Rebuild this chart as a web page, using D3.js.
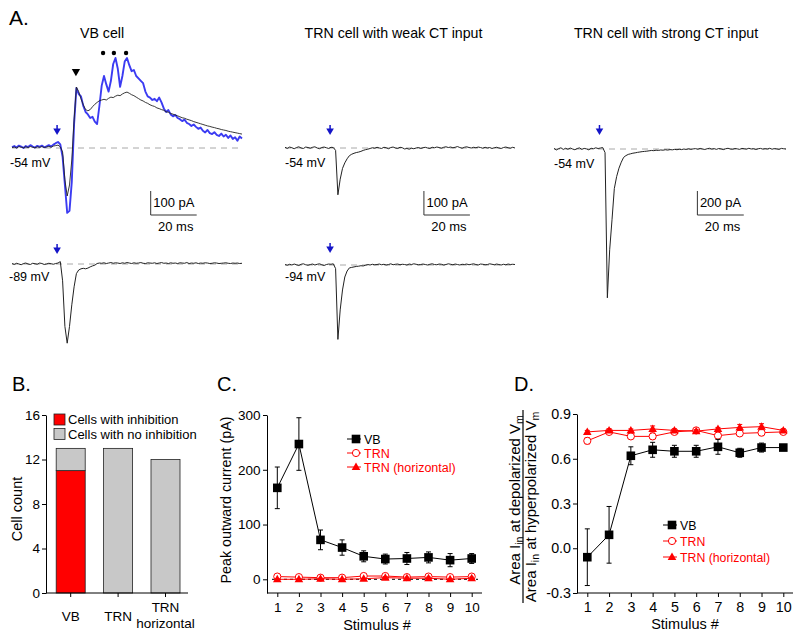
<!DOCTYPE html>
<html><head><meta charset="utf-8">
<script src="https://cdn.jsdelivr.net/npm/d3@7"></script>
<style>
body{margin:0;background:#fff;}
svg{font-family:"Liberation Sans", Arial, sans-serif;}
</style></head><body>
<svg id="fig" width="800" height="639"></svg>
<script>
// ---------------- DATA ----------------
// Panel A traces: current (pA), one sample per ms from 0 to 100 ms
const sampleMs = 1;
const vbDepBlue = [4,8,2,10,6,0,8,4,12,6, 2,9,5,10,3,7,12,6,14,20, 25,
  15,-37,-154,-270,-262,-140,100,250,225,215,
  175,150,140,125,130,110,100,175,260,300,
  265,235,280,350,375,330,255,300,360,375,
  345,320,325,300,290,280,270,235,215,210,
  200,205,195,210,190,165,150,158,140,132,
  138,125,120,112,118,105,100,92,98,88,
  80,85,72,65,75,62,58,66,55,50,
  60,48,55,42,52,38,45,30,48,40];
const vbDepBlack = [2,4,0,6,3,1,5,2,6,3, 1,5,3,6,2,4,7,3,8,10, 12,
  5,-17,-133,-200,-154,-50,117,254,235,205,
  180,160,155,160,172,182,190,197,200,203,
  200,207,212,210,216,220,218,225,230,233,
  228,222,218,212,206,200,196,190,186,180,
  176,173,167,164,160,157,151,149,144,141,
  137,134,130,126,124,120,117,114,110,107,
  104,101,98,95,92,90,87,85,82,80,
  77,75,73,70,68,66,64,62,60,58];
const vbHyp = [2,-2,3,0,-3,2,4,0,-2,3, 1,-1,4,2,-2,0,3,1,-1,2, 4,
  10,-70,-260,-330,-260,-170,-95,-40,-25,-20,
  -18,-20,-17,-12,-8,-5,2,4,3,5,
  2,4,6,3,5,4,2,5,3,6,
  4,2,5,3,4,6,3,2,5,4,
  3,5,2,4,6,3,4,2,5,3,
  4,2,5,4,3,6,2,4,3,5,
  2,4,3,5,4,2,3,5,4,2,
  3,4,5,3,2,4,3,4,2,3];
const trnWeakDep = [3,-2,4,1,-3,2,5,0,-2,4, 2,-1,3,5,0,-3,2,4,1,-2, 3,
  2,-10,-195,-130,-85,-62,-45,-32,-26,-22,
  -19,-17,-14,-10,-7,-5,-2,1,-1,3,
  0,-2,3,1,-3,2,4,0,-2,3,
  1,-4,-2,-5,-1,-3,0,2,-2,1,
  3,0,-2,3,1,4,2,-1,3,5,
  2,4,1,3,6,2,-1,3,5,2,
  0,3,1,4,2,-1,3,0,2,-2,
  1,3,0,-2,2,4,1,-1,3,0];
const trnWeakHyp = [2,-1,3,0,4,1,-2,3,5,1, -1,2,4,0,3,5,1,-2,2,4, 3,
  5,-15,-310,-187,-104,-50,-25,-12,-10,-8,
  -6,-5,-3,-4,-1,2,0,3,1,2,
  4,1,3,0,2,5,1,3,4,1,
  3,2,0,4,2,5,3,1,2,4,
  2,0,3,5,2,1,4,3,0,2,
  5,3,1,4,2,0,3,2,4,1,
  3,5,2,0,4,3,1,2,5,3,
  1,4,2,0,3,1,4,2,3,2];
const trnStrongDep = [5,-8,3,10,-4,6,-2,8,0,-6, 4,9,-3,5,1,-7,6,2,10,4, 8,
  12,-30,-1240,-840,-590,-330,-230,-160,-110,-70,
  -55,-45,-40,-35,-32,-28,-25,-22,-20,-18,
  -15,-12,-14,-10,-12,-8,-10,-6,-9,-5,
  -7,-3,-6,-2,-5,0,-4,2,-3,1,
  3,-2,5,0,-4,2,6,-1,3,-3,
  4,1,-5,2,6,0,-2,4,1,-3,
  5,2,-1,6,0,3,-4,2,5,-1,
  3,0,6,-2,4,1,-3,5,2,0];
const stimTimeMs = 19.6;
const vbPeakMarkMs = 27.8;
const vbBurstMarkMs = [39.6, 44.3, 49.6];
const traceTitles = ["VB cell", "TRN cell with weak CT input", "TRN cell with strong CT input"];
const holdingLabels = ["-54 mV", "-89 mV", "-54 mV", "-94 mV", "-54 mV"];
const scaleBarPA = [100, 100, 200];
const scaleBarMs = 20;

// Panel B
const bCategories = ["VB", "TRN", "TRN horizontal"];
const bWithInhibition = [11, 0, 0];
const bNoInhibition = [2, 13, 12];
const bYTicks = [0, 4, 8, 12, 16];

// Panels C and D
const stimulusNums = [1,2,3,4,5,6,7,8,9,10];
const cVB = [167, 247, 72, 58, 42, 37, 38, 40, 35, 38];
const cVBErr = [38, 48, 18, 14, 10, 9, 11, 10, 12, 9];
const cTRN = [5, 4, 3, 3, 6, 6, 4, 5, 4, 5];
const cTRNErr = [2, 2, 2, 2, 3, 3, 2, 3, 2, 2];
const cTRNh = [0, 0, 1, 0, 1, 3, 2, 2, 0, 2];
const cTRNhErr = [1, 1, 1, 1, 1, 2, 2, 2, 1, 2];
const cYTicks = [0, 100, 200, 300];

const dVB = [-0.06, 0.09, 0.62, 0.66, 0.65, 0.65, 0.68, 0.64, 0.675, 0.675];
const dVBErr = [0.19, 0.19, 0.06, 0.05, 0.04, 0.04, 0.05, 0.03, 0.03, 0.02];
const dTRN = [0.72, 0.78, 0.75, 0.75, 0.78, 0.79, 0.755, 0.77, 0.775, 0.78];
const dTRNErr = [0.02, 0.01, 0.01, 0.02, 0.01, 0.01, 0.02, 0.01, 0.02, 0.01];
const dTRNh = [0.78, 0.79, 0.79, 0.80, 0.79, 0.785, 0.80, 0.81, 0.815, 0.79];
const dTRNhErr = [0.01, 0.01, 0.01, 0.02, 0.01, 0.01, 0.01, 0.02, 0.02, 0.01];
const dYTicks = [-0.3, 0, 0.3, 0.6, 0.9];
const seriesNames = ["VB", "TRN", "TRN (horizontal)"];

// ---------------- DRAW ----------------
const svg = d3.select("#fig");
const BLUE = "#3b3bf2", ARROW = "#1414c8", RED = "#ff0000";

function txt(g, x, y, s, size, anchor, color) {
  return g.append("text").attr("x", x).attr("y", y).text(s)
    .attr("font-size", size).attr("text-anchor", anchor || "start").attr("fill", color || "#000");
}

// panel letters
txt(svg, 9, 25, "A.", 21);
txt(svg, 12, 391, "B.", 20);
txt(svg, 217, 391, "C.", 20);
txt(svg, 514, 391, "D.", 20);

// ---------- Panel A ----------
function traceLine(xs, ys) {
  return d3.line().x((d, i) => xs(i * sampleMs)).y(d => ys(d));
}
function dashedBase(xs, ys) {
  svg.append("line").attr("x1", xs(0)).attr("x2", xs(100)).attr("y1", ys(0)).attr("y2", ys(0))
    .attr("stroke", "#a8a8a8").attr("stroke-width", 1).attr("stroke-dasharray", "6,5");
}
function arrow(xs, ys, tipAbove) {
  const x = xs(stimTimeMs), tip = ys(0) - tipAbove;
  svg.append("line").attr("x1", x).attr("x2", x).attr("y1", tip - 10).attr("y2", tip - 5)
    .attr("stroke", ARROW).attr("stroke-width", 1.5);
  svg.append("path").attr("d", `M${x-3.8},${tip-6.5}L${x+3.8},${tip-6.5}L${x},${tip}Z`).attr("fill", ARROW);
}
function drawTrace(vals, xs, ys, color, w) {
  svg.append("path").datum(vals).attr("d", traceLine(xs, ys))
    .attr("fill", "none").attr("stroke", color).attr("stroke-width", w).attr("stroke-linejoin", "round");
}
function scaleBar(xs, ys, t0, bottomY, pA, pLabel) {
  const x1 = xs(t0), x2 = xs(t0 + scaleBarMs);
  const h = Math.abs(ys(0) - ys(pA));
  svg.append("path").attr("d", `M${x1},${bottomY - h}L${x1},${bottomY}L${x2},${bottomY}`)
    .attr("fill", "none").attr("stroke", "#333").attr("stroke-width", 1);
  txt(svg, x1 + 2.5, bottomY - 8, pLabel, 13);
  txt(svg, (x1 + x2) / 2 + 2, bottomY + 16, scaleBarMs + " ms", 13, "middle");
}

// VB cell
const xVB = d3.scaleLinear().domain([0, 100]).range([12, 242]);
const yVBdep = d3.scaleLinear().domain([0, 100]).range([148, 124]);
const yVBhyp = d3.scaleLinear().domain([0, 100]).range([264, 240]);
txt(svg, 102, 38, traceTitles[0], 14.2, "middle");
dashedBase(xVB, yVBdep);
drawTrace(vbDepBlue, xVB, yVBdep, BLUE, 1.9);
drawTrace(vbDepBlack, xVB, yVBdep, "#222", 0.9);
arrow(xVB, yVBdep, 13);
svg.append("path").attr("d", d3.symbol(d3.symbolTriangle, 30)())
  .attr("transform", `translate(${xVB(vbPeakMarkMs)},71.5) rotate(180)`).attr("fill", "#000");
vbBurstMarkMs.forEach(t => svg.append("circle").attr("cx", xVB(t)).attr("cy", 53).attr("r", 2.2).attr("fill", "#000"));
txt(svg, 10, 167, holdingLabels[0], 12.5);
scaleBar(xVB, yVBdep, 60.3, 215, scaleBarPA[0], scaleBarPA[0] + " pA");
dashedBase(xVB, yVBhyp);
drawTrace(vbHyp, xVB, yVBhyp, "#222", 1);
arrow(xVB, yVBhyp, 10);
txt(svg, 9, 281, holdingLabels[1], 12.5);

// TRN weak
const xTW = d3.scaleLinear().domain([0, 100]).range([285, 515]);
const yTWdep = d3.scaleLinear().domain([0, 100]).range([148, 124]);
const yTWhyp = d3.scaleLinear().domain([0, 100]).range([265, 241]);
txt(svg, 393.5, 38, traceTitles[1], 14.2, "middle");
dashedBase(xTW, yTWdep);
drawTrace(trnWeakDep, xTW, yTWdep, "#222", 1);
arrow(xTW, yTWdep, 13);
txt(svg, 285, 167, holdingLabels[2], 12.5);
scaleBar(xTW, yTWdep, 60.4, 215, scaleBarPA[1], scaleBarPA[1] + " pA");
dashedBase(xTW, yTWhyp);
drawTrace(trnWeakHyp, xTW, yTWhyp, "#222", 1);
arrow(xTW, yTWhyp, 12);
txt(svg, 285, 281, holdingLabels[3], 12.5);

// TRN strong
const xTS = d3.scaleLinear().domain([0, 100]).range([554, 786]);
const yTSdep = d3.scaleLinear().domain([0, 200]).range([149, 125]);
txt(svg, 666, 38, traceTitles[2], 14.2, "middle");
dashedBase(xTS, yTSdep);
drawTrace(trnStrongDep, xTS, yTSdep, "#222", 1);
arrow(xTS, yTSdep, 14);
txt(svg, 554, 168, holdingLabels[4], 12.5);
scaleBar(xTS, yTSdep, 61.8, 215, scaleBarPA[2], scaleBarPA[2] + " pA");

// ---------- Panel B ----------
const yB = d3.scaleLinear().domain([0, 16]).range([593, 415]);
const xB = d3.scaleBand().domain(bCategories).range([47, 189.2]).paddingInner(0.388).paddingOuter(0.194);
const gB = svg.append("g");
bCategories.forEach((c, i) => {
  const w = bWithInhibition[i], n = bNoInhibition[i];
  if (w > 0) gB.append("rect").attr("x", xB(c)).attr("width", xB.bandwidth())
    .attr("y", yB(w)).attr("height", yB(0) - yB(w)).attr("fill", RED).attr("stroke", "#222").attr("stroke-width", 0.8);
  gB.append("rect").attr("x", xB(c)).attr("width", xB.bandwidth())
    .attr("y", yB(w + n)).attr("height", yB(w) - yB(w + n)).attr("fill", "#c8c8c8").attr("stroke", "#222").attr("stroke-width", 0.8);
});
function styleAxis(g, size) {
  g.attr("font-family", null).attr("font-size", size);
  g.selectAll("text").attr("fill", "#000");
  g.selectAll("line,path").attr("stroke", "#000");
}
const ayB = svg.append("g").attr("transform", "translate(46,0)")
  .call(d3.axisLeft(yB).tickValues(bYTicks).tickSize(4).tickPadding(2).tickSizeOuter(0));
styleAxis(ayB, 13.5);
const axB = svg.append("g").attr("transform", "translate(0,593)")
  .call(d3.axisBottom(xB).tickSize(4).tickSizeOuter(0).tickFormat(""));
axB.select(".domain").remove();
styleAxis(axB, 13);
svg.append("line").attr("x1", 46).attr("x2", 188).attr("y1", 593).attr("y2", 593).attr("stroke", "#000");
bCategories.forEach(c => {
  const cx = xB(c) + xB.bandwidth() / 2;
  const parts = c.split(" ");
  if (parts.length === 1) txt(svg, cx, 621, c, 13.5, "middle");
  else { txt(svg, cx, 612, parts[0], 13.5, "middle"); txt(svg, cx, 627.5, parts[1], 13.5, "middle"); }
});
svg.append("text").attr("transform", "translate(22,509) rotate(-90)").attr("text-anchor", "middle")
  .attr("font-size", 14.5).text("Cell count");
// legend
svg.append("rect").attr("x", 54).attr("y", 414).attr("width", 11).attr("height", 11).attr("fill", RED).attr("stroke", "#222").attr("stroke-width", 0.8);
txt(svg, 68, 424, "Cells with inhibition", 13);
svg.append("rect").attr("x", 54).attr("y", 428.5).attr("width", 11).attr("height", 11).attr("fill", "#c8c8c8").attr("stroke", "#222").attr("stroke-width", 0.8);
txt(svg, 68, 438.5, "Cells with no inhibition", 13);

// ---------- Panels C / D helpers ----------
function marker(g, kind, x, y, color) {
  if (kind === "square") g.append("rect").attr("x", x - 4.3).attr("y", y - 4.3).attr("width", 8.6).attr("height", 8.6).attr("fill", "#000");
  else if (kind === "circle") g.append("circle").attr("cx", x).attr("cy", y).attr("r", 3.6).attr("fill", "#fff").attr("stroke", color).attr("stroke-width", 1);
  else g.append("path").attr("d", d3.symbol(d3.symbolTriangle, 32)()).attr("transform", `translate(${x},${y + 0.5})`).attr("fill", color);
}
function series(g, xs, ys, vals, errs, color, kind) {
  const pts = vals.map((v, i) => [xs(stimulusNums[i]), ys(v), ys(v + errs[i]), ys(v - errs[i])]);
  pts.forEach(p => {
    g.append("line").attr("x1", p[0]).attr("x2", p[0]).attr("y1", p[2]).attr("y2", p[3]).attr("stroke", color).attr("stroke-width", 1);
    g.append("line").attr("x1", p[0] - 2.5).attr("x2", p[0] + 2.5).attr("y1", p[2]).attr("y2", p[2]).attr("stroke", color).attr("stroke-width", 1);
    g.append("line").attr("x1", p[0] - 2.5).attr("x2", p[0] + 2.5).attr("y1", p[3]).attr("y2", p[3]).attr("stroke", color).attr("stroke-width", 1);
  });
  g.append("path").datum(pts).attr("d", d3.line().x(p => p[0]).y(p => p[1]))
    .attr("fill", "none").attr("stroke", color).attr("stroke-width", 1);
  pts.forEach(p => marker(g, kind, p[0], p[1], color));
}
function legend(g, x, y0, dy, size) {
  const kinds = ["square", "circle", "triangle"], colors = ["#000", RED, RED];
  seriesNames.forEach((s, i) => {
    const y = y0 + i * dy;
    g.append("line").attr("x1", x - 7).attr("x2", x + 7).attr("y1", y).attr("y2", y).attr("stroke", colors[i]).attr("stroke-width", 1);
    marker(g, kinds[i], x + 2, y, colors[i]);
    txt(g, x + 10, y + 4.5, s, size, "start", colors[i]);
  });
}

// ---------- Panel C ----------
const xC = d3.scaleLinear().domain([1, 10]).range([277.3, 471.7]);
const yC = d3.scaleLinear().domain([-25, 300]).range([593, 415]);
const gC = svg.append("g");
const ayC = gC.append("g").attr("transform", "translate(267,0)")
  .call(d3.axisLeft(yC).tickValues(cYTicks).tickSize(4).tickPadding(2.5).tickSizeOuter(0));
styleAxis(ayC, 13.5);
const axC = gC.append("g").attr("transform", "translate(0,593)")
  .call(d3.axisBottom(xC).tickValues(stimulusNums).tickSize(4).tickPadding(5));
axC.select(".domain").remove();
styleAxis(axC, 13.5);
gC.append("line").attr("x1", 267).attr("x2", 482).attr("y1", 593).attr("y2", 593).attr("stroke", "#000");
gC.append("line").attr("x1", 272).attr("x2", 478).attr("y1", yC(0)).attr("y2", yC(0))
  .attr("stroke", "#000").attr("stroke-width", 1).attr("stroke-dasharray", "3,3");
series(gC, xC, yC, cTRN, cTRNErr, RED, "circle");
series(gC, xC, yC, cTRNh, cTRNhErr, RED, "triangle");
series(gC, xC, yC, cVB, cVBErr, "#000", "square");
legend(gC, 354, 439, 14, 12.5);
txt(gC, 377, 630, "Stimulus #", 14.5, "middle");
gC.append("text").attr("transform", "translate(231,500) rotate(-90)").attr("text-anchor", "middle")
  .attr("font-size", 14.3).text("Peak outward current (pA)");

// ---------- Panel D ----------
const xD = d3.scaleLinear().domain([1, 10]).range([587.3, 783.3]);
const yD = d3.scaleLinear().domain([-0.3, 0.9]).range([593, 414]);
const gD = svg.append("g");
const ayD = gD.append("g").attr("transform", "translate(577,0)")
  .call(d3.axisLeft(yD).tickValues(dYTicks).tickSize(4).tickPadding(2).tickSizeOuter(0).tickFormat(d => d.toFixed(1)));
styleAxis(ayD, 14.3);
const axD = gD.append("g").attr("transform", "translate(0,593)")
  .call(d3.axisBottom(xD).tickValues(stimulusNums).tickSize(4).tickPadding(5));
axD.select(".domain").remove();
styleAxis(axD, 14.3);
gD.append("line").attr("x1", 577).attr("x2", 793).attr("y1", 593).attr("y2", 593).attr("stroke", "#000");
series(gD, xD, yD, dTRN, dTRNErr, RED, "circle");
series(gD, xD, yD, dTRNh, dTRNhErr, RED, "triangle");
series(gD, xD, yD, dVB, dVBErr, "#000", "square");
legend(gD, 670, 525, 16, 12.3);
txt(gD, 685, 629, "Stimulus #", 14.5, "middle");
// fraction label
function fracText(x, y, pre, sub1, mid, sub2) {
  const t = gD.append("text").attr("transform", `translate(${x},${y}) rotate(-90)`).attr("text-anchor", "middle").attr("font-size", 15);
  t.append("tspan").text(pre);
  t.append("tspan").attr("dy", 3).attr("font-size", 10.5).text(sub1);
  t.append("tspan").attr("dy", -3).text(mid);
  t.append("tspan").attr("dy", 3).attr("font-size", 10.5).text(sub2);
}
fracText(519.5, 500, "Area I", "in", " at depolarized V", "m");
fracText(536, 507, "Area I", "in", " at hyperpolarized V", "m");
gD.append("line").attr("x1", 523).attr("x2", 523).attr("y1", 410).attr("y2", 603).attr("stroke", "#000").attr("stroke-width", 1.2);
</script>
</body></html>
